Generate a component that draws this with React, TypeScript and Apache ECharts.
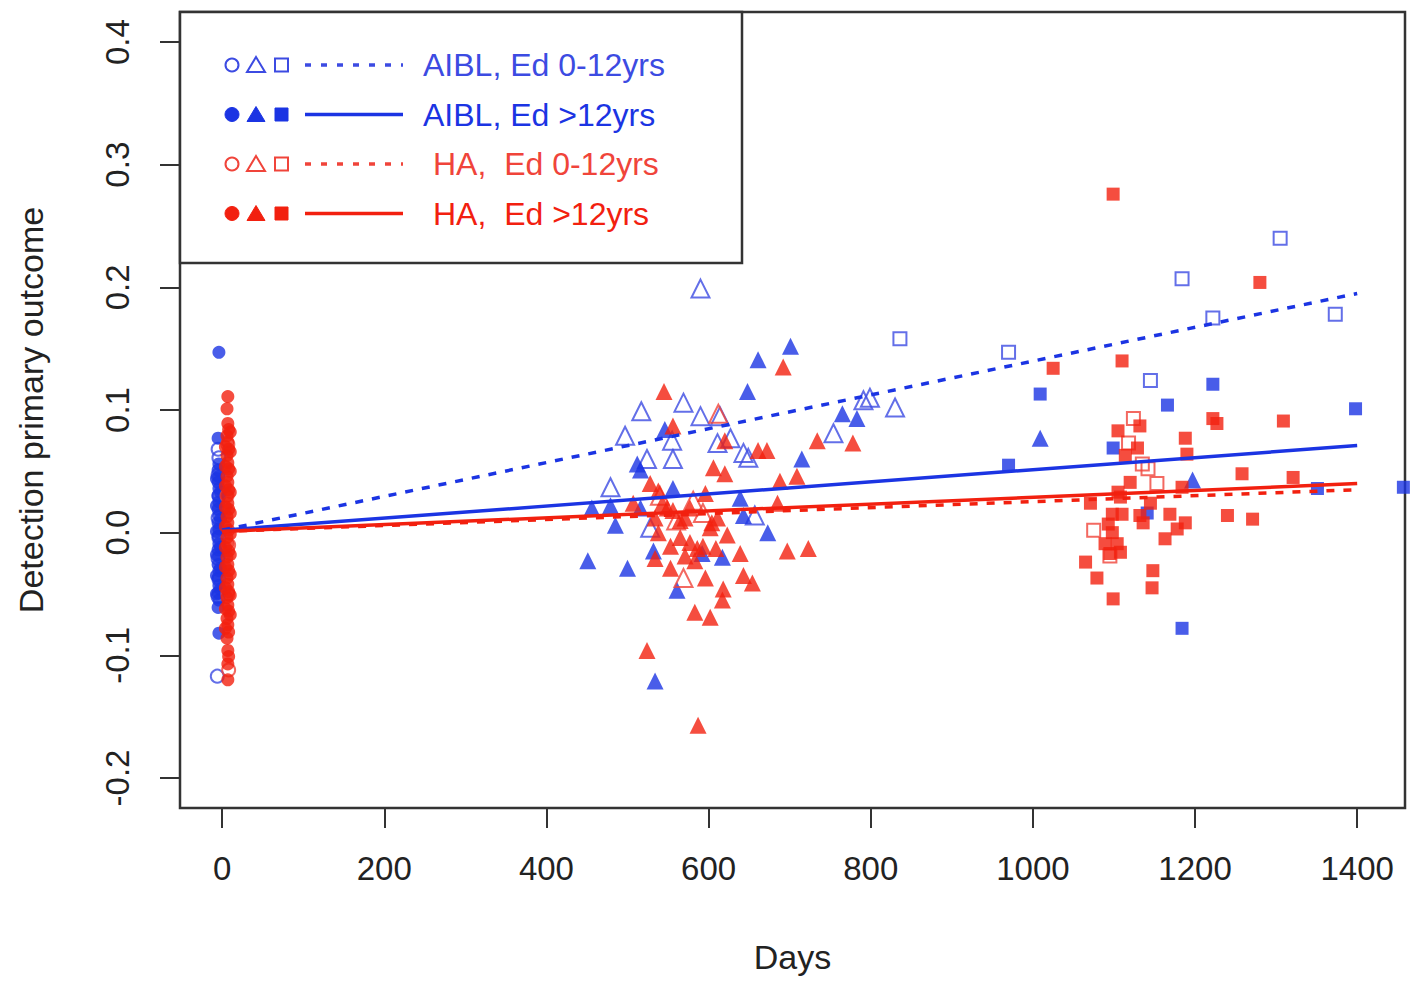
import React, { useEffect, useRef } from "react";
import * as echarts from "echarts";

const xTicks = [0, 200, 400, 600, 800, 1000, 1200, 1400];
const yTicks = [-0.2, -0.1, 0, 0.1, 0.2, 0.3, 0.4];

// [day, value]
const aiblLowCircles = [
  [-5, 0.068], [-4, 0.061], [-5, 0.047], [-4, 0.03], [-5, 0.012], [-4, -0.004],
  [-5, -0.021], [-4, -0.038], [-5, -0.052], [-6, -0.117],
];
const aiblHighCircles = [
  [-4, 0.147], [-5, 0.077], [-4, 0.056], [-5, 0.051], [-4, 0.046], [-5, 0.041], [-4, 0.036],
  [-5, 0.03], [-4, 0.025], [-5, 0.019], [-4, 0.014], [-5, 0.008], [-4, 0.003], [-5, -0.003],
  [-4, -0.009], [-5, -0.014], [-4, -0.02], [-5, -0.026], [-4, -0.031], [-5, -0.037],
  [-4, -0.043], [-5, -0.049], [-4, -0.055], [-5, -0.061], [-4, -0.082],
  [-7, 0.044], [-7, 0.022], [-7, 0.001], [-7, -0.018], [-7, -0.035], [-7, -0.05],
  [-2, 0.033], [-2, 0.011], [-2, -0.012], [-2, -0.029], [-2, -0.046],
];
const haLowCircles = [
  [7, 0.072], [6, 0.03], [8, -0.01], [7, -0.05], [8, -0.112],
];
const haHighCircles = [
  [7, 0.111], [6, 0.101], [7, 0.089], [8, 0.084], [6, 0.079], [7, 0.074], [8, 0.068], [6, 0.063],
  [7, 0.057], [8, 0.052], [6, 0.046], [7, 0.041], [8, 0.035], [6, 0.03], [7, 0.024], [8, 0.019],
  [6, 0.013], [7, 0.008], [8, 0.002], [6, -0.004], [7, -0.009], [8, -0.015], [6, -0.02],
  [7, -0.026], [8, -0.031], [6, -0.037], [7, -0.042], [8, -0.048], [6, -0.053], [7, -0.059],
  [8, -0.064], [6, -0.07], [7, -0.075], [8, -0.081], [6, -0.086], [7, -0.096], [8, -0.101],
  [7, -0.107], [7, -0.12],
  [10, 0.082], [10, 0.066], [10, 0.05], [10, 0.033], [10, 0.016], [10, -0.001],
  [10, -0.018], [10, -0.034], [10, -0.051], [10, -0.067],
  [4, 0.07], [4, 0.054], [4, 0.038], [4, 0.021], [4, 0.005], [4, -0.012], [4, -0.028],
  [4, -0.045], [4, -0.062], [4, -0.078],
];

const aiblLowTriangles = [
  [590, 0.199], [517, 0.099], [569, 0.106], [590, 0.095], [614, 0.095], [497, 0.079],
  [555, 0.075], [611, 0.073], [627, 0.077], [643, 0.065], [649, 0.061], [754, 0.081],
  [791, 0.108], [799, 0.11], [830, 0.102], [524, 0.06], [556, 0.06], [479, 0.037],
  [528, 0.004], [657, 0.014],
];
const aiblHighTriangles = [
  [701, 0.152], [661, 0.141], [648, 0.115], [546, 0.084], [765, 0.097], [783, 0.093],
  [512, 0.056], [516, 0.051], [715, 0.06], [556, 0.036], [639, 0.028], [456, 0.02],
  [479, 0.022], [516, 0.02], [485, 0.006], [643, 0.014], [673, 0.0], [532, -0.015],
  [617, -0.02], [592, -0.017], [451, -0.023], [500, -0.029], [561, -0.047], [534, -0.121],
  [1009, 0.077], [1197, 0.043],
];
const haLowTriangles = [
  [612, 0.097], [581, 0.026], [569, -0.037], [540, 0.03], [593, 0.016], [560, 0.01],
];
const haHighTriangles = [
  [692, 0.135], [545, 0.115], [556, 0.087], [620, 0.075], [661, 0.067], [672, 0.067],
  [734, 0.075], [778, 0.073], [606, 0.053], [620, 0.048], [688, 0.042], [709, 0.046],
  [528, 0.04], [538, 0.034], [685, 0.024], [549, 0.02], [556, 0.018], [534, 0.012],
  [538, 0.0], [565, 0.01], [571, 0.012], [602, 0.004], [611, 0.012], [623, -0.002],
  [565, -0.004], [577, -0.008], [586, -0.013], [571, -0.019], [583, -0.023], [593, -0.011],
  [534, -0.021], [553, -0.029], [639, -0.017], [697, -0.015], [723, -0.013], [596, -0.037],
  [643, -0.035], [654, -0.041], [618, -0.046], [617, -0.055], [583, -0.065], [602, -0.069],
  [524, -0.096], [587, -0.157], [543, 0.024], [577, 0.02], [596, 0.032], [604, 0.008],
  [553, -0.011], [609, -0.013], [507, 0.024],
];

const aiblLowSquares = [
  [1305, 0.24], [1184, 0.207], [1222, 0.175], [1373, 0.178], [970, 0.147], [1145, 0.124],
  [836, 0.158],
];
const aiblHighSquares = [
  [1222, 0.121], [1009, 0.113], [1166, 0.104], [1398, 0.101], [1099, 0.069], [970, 0.055],
  [1351, 0.036], [1141, 0.016], [1184, -0.078], [1457, 0.037],
];
const haLowSquares = [
  [1124, 0.093], [1118, 0.073], [1135, 0.056], [1142, 0.052], [1153, 0.04], [1075, 0.002],
  [1095, -0.019],
];
const haHighSquares = [
  [1099, 0.276], [1280, 0.204], [1025, 0.134], [1110, 0.14], [1132, 0.087], [1222, 0.093],
  [1227, 0.089], [1309, 0.091], [1105, 0.083], [1188, 0.077], [1129, 0.069], [1114, 0.063],
  [1190, 0.064], [1258, 0.048], [1321, 0.045], [1120, 0.041], [1105, 0.033], [1108, 0.029],
  [1184, 0.037], [1071, 0.024], [1145, 0.024], [1098, 0.015], [1110, 0.015], [1132, 0.014],
  [1136, 0.008], [1169, 0.015], [1240, 0.014], [1271, 0.011], [1093, 0.007], [1098, 0.0],
  [1188, 0.008], [1178, 0.003], [1163, -0.005], [1089, -0.009], [1104, -0.009], [1095, -0.017],
  [1108, -0.016], [1065, -0.024], [1148, -0.031], [1079, -0.037], [1147, -0.045], [1099, -0.054],
];

const aiblLowFit = [[0, 0.002], [1400, 0.195]];
const aiblHighFit = [[0, 0.002], [1400, 0.071]];
const haLowFit = [[0, 0.001], [1400, 0.035]];
const haHighFit = [[0, 0.001], [1400, 0.04]];

const legendLabels = [
  "AIBL, Ed 0-12yrs",
  "AIBL, Ed >12yrs",
  "HA,  Ed 0-12yrs",
  "HA,  Ed >12yrs",
];

const BLUE = "#1b34e3";
const BLUE_OPEN = "#3c4be2";
const RED = "#f2200f";
const RED_OPEN = "#f0443a";
const FONT = "Liberation Sans, Arial, sans-serif";

function scatter(data: number[][], symbol: string, color: string, filled: boolean, size: number) {
  return {
    type: "scatter",
    data,
    symbol,
    symbolSize: size,
    clip: false,
    itemStyle: filled
      ? { color, borderWidth: 0 }
      : { color: "rgba(255,255,255,0)", borderColor: color, borderWidth: 2 },
    emphasis: { disabled: true },
  };
}

function fit(data: number[][], color: string, dashed: boolean) {
  return {
    type: "line",
    data,
    symbol: "none",
    lineStyle: { color, width: 3.5, type: dashed ? [8, 9] : "solid" },
    z: 5,
    emphasis: { disabled: true },
  };
}

function legendRow(i: number, color: string, filled: boolean, dashed: boolean, textX: number) {
  const y = 65 + i * 49.5;
  const sym = filled
    ? { fill: color, stroke: color, lineWidth: 1 }
    : { fill: "none", stroke: color, lineWidth: 2 };
  return [
    { type: "circle", shape: { cx: 232, cy: y, r: filled ? 7 : 6.5 }, style: sym },
    {
      type: "polygon",
      shape: { points: [[256, y - 8], [265, y + 7], [247, y + 7]] },
      style: sym,
    },
    { type: "rect", shape: { x: 275, y: y - 6.5, width: 13, height: 13 }, style: sym },
    {
      type: "line",
      shape: { x1: 305, y1: y, x2: 403, y2: y },
      style: { stroke: color, lineWidth: 3.5, lineDash: dashed ? [6, 10] : null },
    },
    {
      type: "text",
      x: textX,
      y,
      style: {
        text: legendLabels[i],
        fill: color,
        font: `32px ${FONT}`,
        textVerticalAlign: "middle",
        textAlign: "left",
      },
    },
  ];
}

export default function App() {
  const ref = useRef<HTMLDivElement>(null);
  useEffect(() => {
    if (!ref.current) return;
    const chart = echarts.init(ref.current, null, { renderer: "svg" });
    const option = {
      animation: false,
      backgroundColor: "#ffffff",
      grid: {
        left: 180,
        right: 13,
        top: 12,
        bottom: 181,
        show: true,
        borderColor: "#333333",
        borderWidth: 2.5,
        backgroundColor: "transparent",
      },
      xAxis: {
        type: "value",
        min: -52,
        max: 1459,
        name: "Days",
        nameLocation: "middle",
        nameGap: 132,
        nameTextStyle: { fontSize: 34, color: "#222", fontFamily: FONT },
        axisLine: { show: false, onZero: false },
        splitLine: { show: false },
        axisTick: {
          show: true,
          length: 20,
          customValues: xTicks,
          lineStyle: { color: "#333", width: 2 },
        },
        axisLabel: {
          customValues: xTicks,
          margin: 44,
          fontSize: 33,
          color: "#222",
          fontFamily: FONT,
          formatter: (v: number) => String(v),
        },
      },
      yAxis: {
        type: "value",
        min: -0.2245,
        max: 0.4245,
        name: "Detection primary outcome",
        nameLocation: "middle",
        nameGap: 132,
        nameTextStyle: { fontSize: 34, color: "#222", fontFamily: FONT },
        axisLine: { show: false, onZero: false },
        splitLine: { show: false },
        axisTick: {
          show: true,
          length: 20,
          customValues: yTicks,
          lineStyle: { color: "#333", width: 2 },
        },
        axisLabel: {
          customValues: yTicks,
          rotate: 90,
          margin: 46,
          fontSize: 33,
          color: "#222",
          fontFamily: FONT,
          formatter: (v: number) => v.toFixed(1),
        },
      },
      graphic: [
        {
          type: "group",
          children: [
            {
              type: "rect",
              shape: { x: 180, y: 12, width: 562, height: 251 },
              style: { fill: "#fff", stroke: "#333", lineWidth: 2.5 },
            },
            ...legendRow(0, BLUE_OPEN, false, true, 423),
            ...legendRow(1, BLUE, true, false, 423),
            ...legendRow(2, RED_OPEN, false, true, 433),
            ...legendRow(3, RED, true, false, 433),
          ],
        },
      ],
      series: [
        scatter(aiblLowCircles, "circle", BLUE_OPEN, false, 13),
        scatter(aiblHighCircles, "circle", BLUE, true, 13),
        scatter(aiblLowTriangles, "triangle", BLUE_OPEN, false, 18),
        scatter(aiblHighTriangles, "triangle", BLUE, true, 17),
        scatter(aiblLowSquares, "rect", BLUE_OPEN, false, 13),
        scatter(aiblHighSquares, "rect", BLUE, true, 13),
        scatter(haLowCircles, "circle", RED_OPEN, false, 13),
        scatter(haHighCircles, "circle", RED, true, 13),
        scatter(haLowTriangles, "triangle", RED_OPEN, false, 18),
        scatter(haHighTriangles, "triangle", RED, true, 17),
        scatter(haLowSquares, "rect", RED_OPEN, false, 13),
        scatter(haHighSquares, "rect", RED, true, 13),
        fit(aiblLowFit, BLUE, true),
        fit(aiblHighFit, BLUE, false),
        fit(haLowFit, RED, true),
        fit(haHighFit, RED, false),
      ],
    };
    chart.setOption(option as any);
    return () => chart.dispose();
  }, []);
  return (
    <div
      ref={ref}
      style={{ position: "fixed", left: 0, top: 0, width: 1418, height: 989, background: "#fff" }}
    />
  );
}
